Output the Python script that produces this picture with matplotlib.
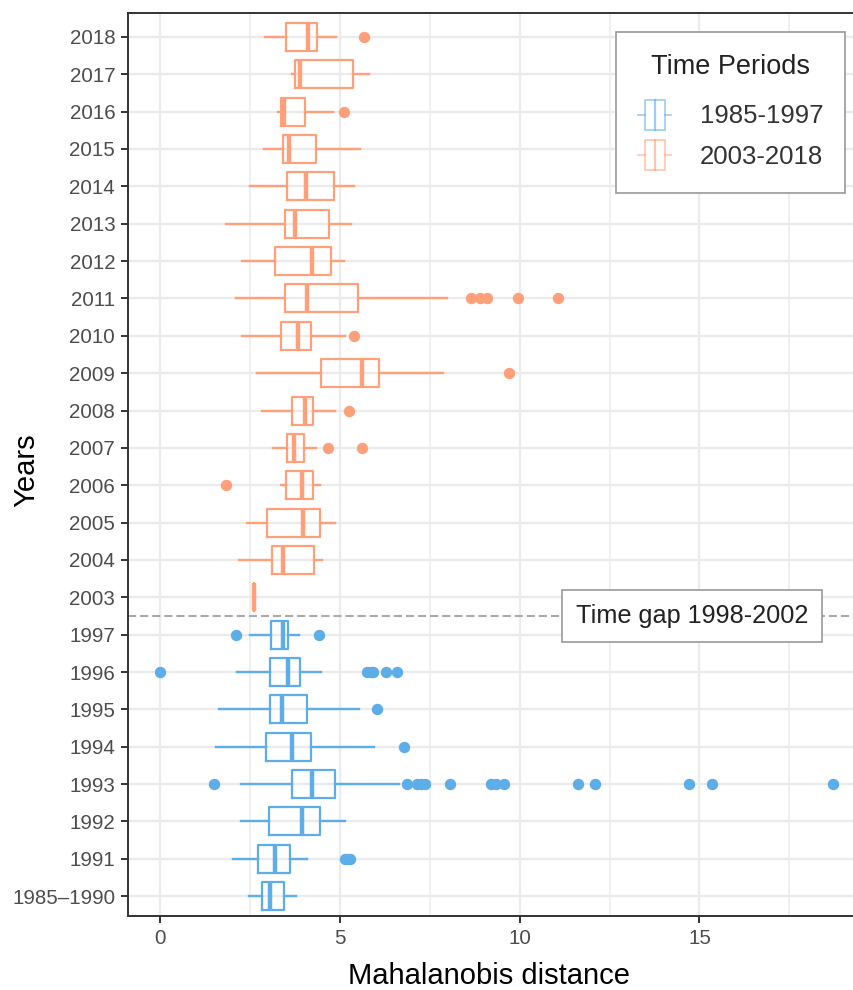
import matplotlib
matplotlib.use("Agg")
import matplotlib.pyplot as plt
from matplotlib.legend_handler import HandlerBase
from matplotlib.patches import Rectangle
from matplotlib.lines import Line2D

plt.rcParams['font.family'] = ['Liberation Sans', 'DejaVu Sans']

# categories from bottom to top
years = ['1985\u20131990', '1991', '1992', '1993', '1994', '1995', '1996', '1997',
         '2003', '2004', '2005', '2006', '2007', '2008', '2009', '2010',
         '2011', '2012', '2013', '2014', '2015', '2016', '2017', '2018']
period = ['early'] * 8 + ['late'] * 16

# box statistics
whislo = [2.46, 2.02, 2.24, 2.24, 1.54, 1.63, 2.14, 2.49,
          2.61, 2.19, 2.41, 3.36, 3.13, 2.83, 2.69, 2.27,
          2.10, 2.27, 1.82, 2.49, 2.88, 3.26, 3.67, 2.91]
q1 = [2.84, 2.72, 3.02, 3.65, 2.95, 3.05, 3.05, 3.08,
      2.61, 3.11, 2.98, 3.50, 3.51, 3.66, 4.47, 3.36,
      3.48, 3.19, 3.47, 3.53, 3.40, 3.35, 3.74, 3.50]
med = [3.05, 3.20, 3.95, 4.23, 3.65, 3.37, 3.54, 3.40,
       2.61, 3.40, 3.98, 3.95, 3.73, 4.01, 5.61, 3.84,
       4.09, 4.21, 3.75, 4.05, 3.59, 3.45, 3.88, 4.10]
q3 = [3.43, 3.61, 4.43, 4.87, 4.20, 4.07, 3.89, 3.56,
      2.61, 4.28, 4.45, 4.26, 3.99, 4.26, 6.07, 4.18,
      5.50, 4.75, 4.69, 4.83, 4.32, 4.02, 5.35, 4.35]
whishi = [3.77, 4.07, 5.13, 6.64, 5.94, 5.53, 4.47, 3.85,
          2.61, 4.49, 4.86, 4.44, 4.33, 4.86, 7.87, 5.14,
          7.98, 5.11, 5.31, 5.39, 5.56, 4.80, 5.80, 4.88]
fliers = [[], [5.14, 5.21, 5.28], [],
          [1.50, 6.86, 7.13, 7.26, 7.35, 8.07, 9.20, 9.33, 9.56, 11.63, 12.08, 14.70, 15.34, 18.71],
          [6.78], [6.03], [0.0, 5.75, 5.85, 5.92, 6.29, 6.59], [2.10, 4.40],
          [], [], [], [1.82], [4.65, 5.61], [5.24], [9.70], [5.38],
          [8.63, 8.88, 9.08, 9.94, 11.06], [], [], [], [], [5.10], [], [5.66]]

colors = {'early': '#5dade8', 'late': '#ffa07a'}
labels = {'early': '1985-1997', 'late': '2003-2018'}

fig = plt.figure(figsize=(8.54, 9.9), dpi=100)
ax = fig.add_axes([127.7 / 854, 1 - 916 / 990, 1 - 127.7 / 854, (916 - 13) / 990])

for i in range(len(years)):
    c = colors[period[i]]
    st = dict(whislo=whislo[i], q1=q1[i], med=med[i], q3=q3[i], whishi=whishi[i], fliers=fliers[i])
    ax.bxp([st], positions=[i + 1], widths=0.75, vert=False, showcaps=False,
           boxprops=dict(color=c, linewidth=1.6),
           whiskerprops=dict(color=c, linewidth=1.7),
           medianprops=dict(color=c, linewidth=3.2),
           flierprops=dict(marker='o', markerfacecolor=c, markeredgecolor=c, markersize=7.2),
           zorder=3)

ax.set_xlim(-0.91, 19.30)
ax.set_ylim(0.47, 24.64)
ax.set_yticks(range(1, len(years) + 1))
ax.set_yticklabels(years)
ax.set_xticks([0, 5, 10, 15])
ax.set_xticks([2.5, 7.5, 12.5, 17.5], minor=True)
ax.tick_params(axis='both', which='major', labelsize=14.8, labelcolor='#4d4d4d',
               color='#333333', length=5, width=1.4, pad=4)
ax.tick_params(axis='x', which='minor', length=0)
ax.grid(True, which='major', color='#ebebeb', linewidth=1.6, zorder=0)
ax.grid(True, which='minor', axis='x', color='#ebebeb', linewidth=1.1, zorder=0)
ax.set_axisbelow(True)
for side in ['left', 'bottom', 'top']:
    ax.spines[side].set_color('#333333')
    ax.spines[side].set_linewidth(1.4)
ax.spines['right'].set_visible(False)

# time gap marker
ax.axhline(8.5, color='#aaaaaa', linewidth=1.5, dashes=(3.9, 1.9), zorder=2)
ax.text(14.8, 8.5, 'Time gap 1998-2002', fontsize=18.2, color='#222222',
        ha='center', va='center', zorder=4,
        bbox=dict(boxstyle='square,pad=0.55', facecolor='white', edgecolor='#999999', linewidth=1.2))

fig.text(26 / 854, 1 - 470 / 990, 'Years', rotation=90, ha='center', va='center',
         fontsize=21, color='black')
fig.text(489 / 854, 1 - 984 / 990, 'Mahalanobis distance', ha='center', va='baseline',
         fontsize=21, color='black')


class BoxKey(HandlerBase):
    def create_artists(self, legend, orig_handle, xdescent, ydescent, width, height, fontsize, trans):
        c = orig_handle.get_color()
        x0, y0 = -xdescent, -ydescent
        cy = y0 + height / 2
        h = height * 0.95
        box = Rectangle((x0 + 0.2 * width, cy - h / 2), 0.6 * width, h,
                        facecolor='white', edgecolor=c, linewidth=1.2, alpha=0.6, transform=trans)
        wl = Line2D([x0, x0 + 0.2 * width], [cy, cy], color=c, linewidth=1.2, alpha=0.6, transform=trans)
        wr = Line2D([x0 + 0.8 * width, x0 + width], [cy, cy], color=c, linewidth=1.2, alpha=0.6, transform=trans)
        md = Line2D([x0 + 0.5 * width] * 2, [cy - h / 2, cy + h / 2], color=c, linewidth=1.6,
                    alpha=0.6, transform=trans)
        return [box, wl, wr, md]


handles = [Line2D([], [], color=colors[k]) for k in ['early', 'late']]
leg = ax.legend(handles, [labels[k] for k in ['early', 'late']], title='Time Periods',
                handler_map={Line2D: BoxKey()}, loc='upper right',
                bbox_to_anchor=((845 - 127.7) / (854 - 127.7), 1 - (32 - 13) / (916 - 13)),
                fontsize=18.5, title_fontsize=19.5, frameon=True, fancybox=False,
                edgecolor='#999999', framealpha=1, handlelength=1.3, handleheight=1.5,
                borderpad=0.85, labelspacing=0.35, handletextpad=1.1, borderaxespad=0)
# extra gap between the legend title and its entries
leg._legend_box.sep = 14
leg.get_frame().set_linewidth(1.2)
leg.get_title().set_color('#222222')
for t in leg.get_texts():
    t.set_color('#333333')

fig.savefig('out.png', dpi=100)
